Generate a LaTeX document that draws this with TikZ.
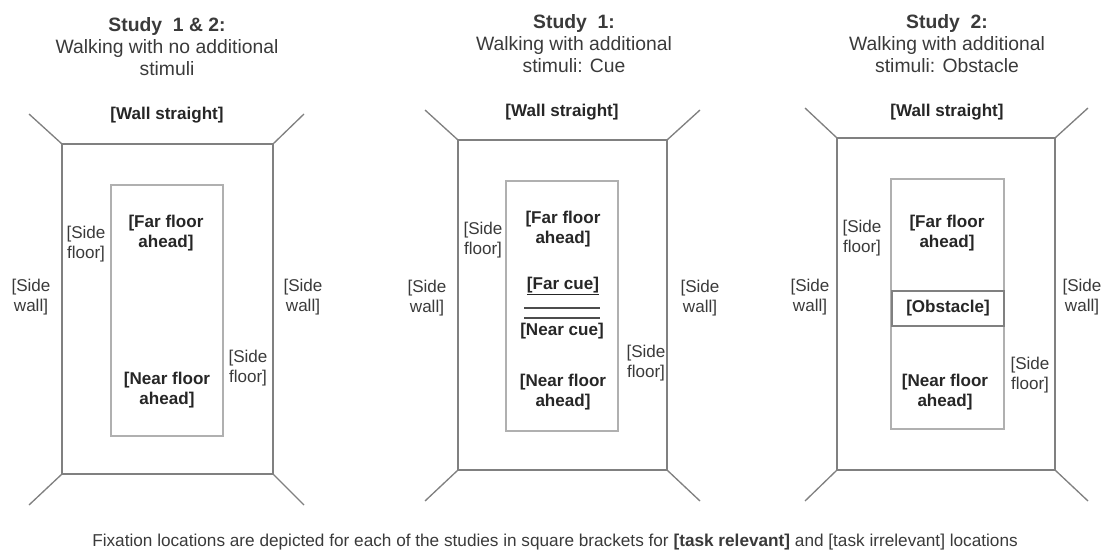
\documentclass[tikz,border=0pt]{standalone}
\usepackage{fontspec}
\setmainfont{Liberation Sans}
\usepackage{tikz}
\usetikzlibrary{positioning}

\definecolor{wallgray}{HTML}{808080}
\definecolor{floorgray}{HTML}{B0B0B0}
\definecolor{txtgray}{HTML}{3A3A3A}

\tikzset{
  wall/.style={draw=wallgray, line width=1pt},
  floorbox/.style={draw=floorgray, line width=0.8pt},
  title/.style={align=center, font=\fontsize{14.5}{16.5}\selectfont, text=txtgray},
  sidelbl/.style={align=center, font=\fontsize{12.8}{15.6}\selectfont, text=txtgray, inner sep=0pt},
  relevant/.style={align=center, font=\fontsize{12.8}{15.6}\selectfont\bfseries, text=black!85, inner sep=0pt},
  cueline/.style={draw=black!70, line width=1.4pt}
}

\begin{document}
\begin{tikzpicture}[x=0.75pt,y=-0.75pt]
\useasboundingbox (0,0) rectangle (1106,560);

% study 1 & 2
\node[title] (t1) at (167,47) {\textbf{Study\ \ 1 \& 2:}\\Walking with no additional\\stimuli};
\coordinate (a1) at (62,144);  \coordinate (b1) at (273,474);
\draw[wall] (a1) rectangle (b1);
\draw[wall] (a1) -- (29,114);
\draw[wall] (a1 -| b1) -- (304,114);
\draw[wall] (a1 |- b1) -- (29,505);
\draw[wall] (b1) -- (304,505);
\draw[floorbox] (111,185) rectangle (223,436);
\node[relevant] (w1) at (167,115) {[Wall straight]};
\node[sidelbl] (sf1) at (86,244) {[Side\\floor]};
\node[sidelbl] (sw1) at (31,297) {[Side\\wall]};
\node[sidelbl] (sw1r) at (303,297) {[Side\\wall]};
\node[sidelbl] (sf1r) at (248,368) {[Side\\floor]};
\node[relevant] (ff1) at (166,233) {[Far floor\\ahead]};
\node[relevant] (nf1) at (167,390) {[Near floor\\ahead]};

% study 1
\node[title] (t2) at (574,44) {\textbf{Study\ \ 1:}\\Walking with additional\\stimuli: Cue};
\coordinate (a2) at (458,140);  \coordinate (b2) at (667,470);
\draw[wall] (a2) rectangle (b2);
\draw[wall] (a2) -- (425,110);
\draw[wall] (a2 -| b2) -- (700,110);
\draw[wall] (a2 |- b2) -- (425,501);
\draw[wall] (b2) -- (700,501);
\draw[floorbox] (506,181) rectangle (618,431);
\node[relevant] (w2) at (562,112) {[Wall straight]};
\node[sidelbl] (sf2) at (483,240) {[Side\\floor]};
\node[sidelbl] (sw2) at (427,298) {[Side\\wall]};
\node[sidelbl] (sw2r) at (700,298) {[Side\\wall]};
\node[sidelbl] (sf2r) at (646,363) {[Side\\floor]};
\node[relevant] (ff2) at (563,229) {[Far floor\\ahead]};
\node[relevant] (fc2) at (563,286) {\underline{[Far cue]}};
\draw[cueline] (524,308) -- (600,308);
\draw[cueline] (524,318) -- (600,318);
\node[relevant] (nc2) at (562,331) {[Near cue]};
\node[relevant] (nf2) at (563,392) {[Near floor\\ahead]};

% study 2
\node[title] (t3) at (947,44) {\textbf{Study\ \ 2:}\\Walking with additional\\stimuli: Obstacle};
\coordinate (a3) at (837,138);  \coordinate (b3) at (1055,470);
\draw[wall] (a3) rectangle (b3);
\draw[wall] (a3) -- (805,108);
\draw[wall] (a3 -| b3) -- (1088,108);
\draw[wall] (a3 |- b3) -- (805,501);
\draw[wall] (b3) -- (1088,501);
\draw[floorbox] (891,179) rectangle (1004,429);
\draw[wall] (892,291) rectangle (1004,326);
\node[relevant] (ob3) at (948,308) {[Obstacle]};
\node[relevant] (w3) at (947,112) {[Wall straight]};
\node[sidelbl] (sf3) at (862,238) {[Side\\floor]};
\node[sidelbl] (sw3) at (810,297) {[Side\\wall]};
\node[sidelbl] (sw3r) at (1082,297) {[Side\\wall]};
\node[sidelbl] (sf3r) at (1030,375) {[Side\\floor]};
\node[relevant] (ff3) at (947,233) {[Far floor\\ahead]};
\node[relevant] (nf3) at (945,392) {[Near floor\\ahead]};

% caption
\node[font=\fontsize{12.9}{14}\selectfont, text=txtgray] (cap) at (555,542)
  {Fixation locations are depicted for each of the studies in square brackets for \textbf{[task relevant]} and [task irrelevant] locations};
\end{tikzpicture}
\end{document}
